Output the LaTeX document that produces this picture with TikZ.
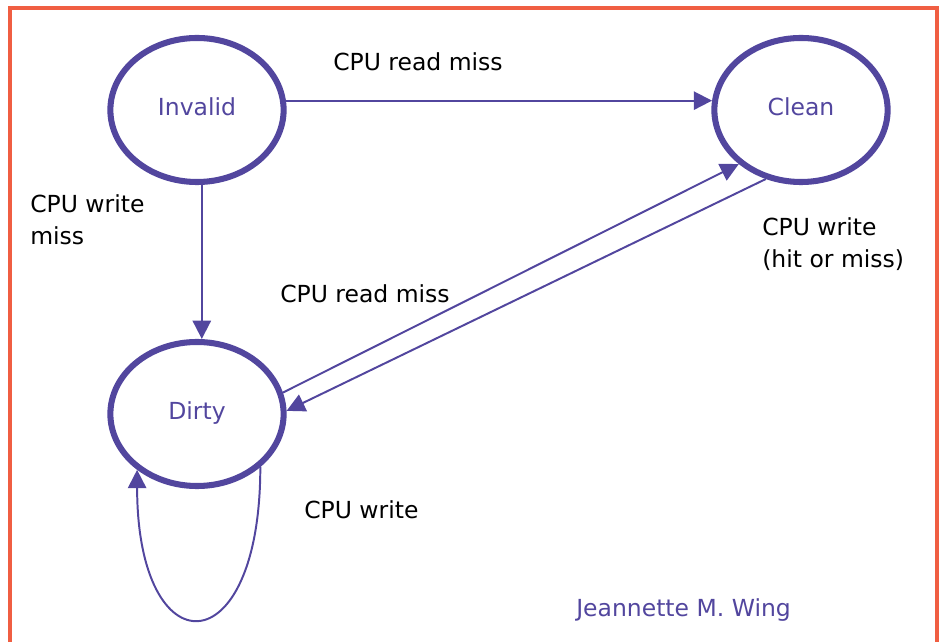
\documentclass[tikz,border=0pt]{standalone}
\usepackage{fontspec}
\setmainfont{DejaVu Sans}
\usetikzlibrary{shapes.geometric,arrows.meta}
\definecolor{wingpurple}{RGB}{82,70,158}
\definecolor{frameorange}{RGB}{240,94,66}

\tikzset{
 state/.style={draw=wingpurple,line width=4.3pt,ellipse,minimum width=4.33cm,minimum height=3.6cm,
  inner sep=0pt,text=wingpurple,text height=0.73em,text depth=0pt},
 conn/.style={draw=wingpurple,line width=1.4pt,-{Triangle[length=13pt,width=13pt]}},
 lbl/.style={anchor=base west,align=left,inner sep=0pt}
}

\begin{document}
\begin{tikzpicture}[x=0.025cm,y=-0.025cm,font=\fontsize{16.7}{22.8}\selectfont]
 \useasboundingbox (0,0) rectangle (942,642);
 \draw[frameorange,line width=2.8pt] (10,642) |- (937,8) -- (937,642);
 \node[state] (inv) at (197,110) {Invalid};
 \node[state] (cln) at (801,110) {Clean};
 \node[state] (dty) at (197,414) {Dirty};
 \draw[conn] (inv.6) -- (cln.174);
 \draw[conn] ([xshift=1.2mm]inv.south) -- ([xshift=1.2mm]dty.north);
 \draw[conn] (dty.14) -- (cln.221);
 \draw[conn] (cln.243) -- (dty.2);
 \draw[conn] (dty.320) .. controls +(0,201) and +(0,200) .. (dty.223);
 %labels
 \node[lbl] (rdmiss) at (333,71) {CPU read miss};
 \node[lbl] (wrmiss) at (30,245) {CPU write\\miss};
 \node[lbl] (rdmiss2) at (280,303) {CPU read miss};
 \node[lbl] (wrhit) at (762,268) {CPU write\\(hit or miss)};
 \node[lbl] (wr) at (304,519) {CPU write};
 \node[lbl,text=wingpurple] (author) at (576,617) {Jeannette M. Wing};
\end{tikzpicture}
\end{document}
